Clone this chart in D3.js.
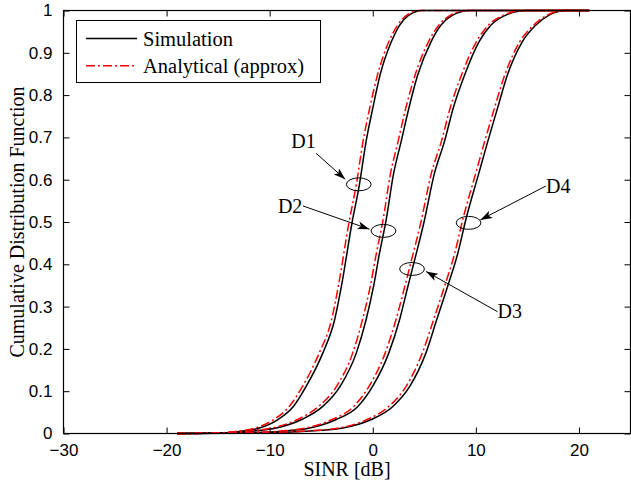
<!DOCTYPE html>
<html><head><meta charset="utf-8">
<script src="https://cdn.jsdelivr.net/npm/d3@7"></script>
<style>html,body{margin:0;padding:0;background:#fff}svg{display:block}</style>
</head><body><svg id="c" width="631" height="484"></svg>
<script>
// ---- data ----
const xTicks = [-30, -20, -10, 0, 10, 20];
const xTickLabels = ["\u221230", "\u221220", "\u221210", "0", "10", "20"];
const yTicks = [0, 0.1, 0.2, 0.3, 0.4, 0.5, 0.6, 0.7, 0.8, 0.9, 1];
const yTickLabels = ["0", "0.1", "0.2", "0.3", "0.4", "0.5", "0.6", "0.7", "0.8", "0.9", "1"];
const seriesNames = ["Simulation", "Analytical (approx)"];
const curveNames = ["D1", "D2", "D3", "D4"];

const simD1 = [[-19,0],[-15,0.001],[-13,0.005],[-11,0.013],[-9.2,0.033],[-7.7,0.064],[-6.45,0.112],[-4.85,0.19],[-3.7,0.269],[-3.05,0.347],[-2.0,0.5],[-1.3,0.588],[-0.65,0.69],[0,0.769],[0.7,0.847],[1.8,0.926],[2.6,0.965],[3.5,0.989],[4.8,1],[21,1]];
const simD2 = [[-19,0],[-14,0.002],[-11.5,0.006],[-9.35,0.013],[-6.9,0.033],[-4.85,0.064],[-3.15,0.112],[-1.6,0.19],[-0.65,0.269],[0.07,0.347],[0.65,0.426],[1.3,0.505],[2.0,0.612],[2.75,0.69],[3.5,0.769],[4.35,0.847],[5.65,0.926],[6.6,0.965],[7.75,0.989],[9.4,1],[21,1]];
const simD3 = [[-19,0],[-12,0.002],[-8.5,0.006],[-6.1,0.013],[-3.55,0.033],[-1.45,0.064],[0,0.112],[1.55,0.19],[2.6,0.269],[3.4,0.347],[3.9,0.395],[5.0,0.503],[5.95,0.612],[6.95,0.69],[7.8,0.769],[8.9,0.847],[10.3,0.926],[11.45,0.965],[12.9,0.989],[14.9,1],[21,1]];
const simD4 = [[-19,0],[-10,0.002],[-6,0.006],[-2.9,0.013],[-0.15,0.033],[1.95,0.064],[3.6,0.112],[5.15,0.19],[6.2,0.269],[7.25,0.347],[8.25,0.426],[9.0,0.503],[10.25,0.612],[11.15,0.69],[12.1,0.769],[13.05,0.847],[14.5,0.926],[15.8,0.965],[17.1,0.989],[18.7,1],[21,1]];

const anaD1 = [[-19,0],[-15.5,0.001],[-13.3,0.005],[-11.4,0.013],[-9.6,0.033],[-8.1,0.064],[-6.8,0.112],[-5.2,0.19],[-4.0,0.269],[-3.35,0.347],[-2.3,0.5],[-1.6,0.588],[-0.95,0.69],[-0.3,0.769],[0.45,0.847],[1.55,0.926],[2.4,0.965],[3.3,0.989],[4.6,1],[21,1]];
const anaD2 = [[-19,0],[-14.4,0.002],[-11.9,0.006],[-9.75,0.013],[-7.3,0.033],[-5.25,0.064],[-3.5,0.112],[-1.95,0.19],[-1.0,0.269],[-0.25,0.347],[0.35,0.426],[1.0,0.505],[1.7,0.612],[2.45,0.69],[3.2,0.769],[4.1,0.847],[5.4,0.926],[6.4,0.965],[7.55,0.989],[9.2,1],[21,1]];
const anaD3 = [[-19,0],[-12.4,0.002],[-8.9,0.006],[-6.5,0.013],[-3.95,0.033],[-1.85,0.064],[-0.35,0.112],[1.2,0.19],[2.25,0.269],[3.1,0.347],[3.6,0.395],[4.7,0.503],[5.65,0.612],[6.65,0.69],[7.5,0.769],[8.6,0.847],[10.05,0.926],[11.2,0.965],[12.7,0.989],[14.7,1],[21,1]];
const anaD4 = [[-19,0],[-10.4,0.002],[-6.4,0.006],[-3.3,0.013],[-0.55,0.033],[1.55,0.064],[3.25,0.112],[4.8,0.19],[5.9,0.269],[6.95,0.347],[7.95,0.426],[8.7,0.503],[9.95,0.612],[10.85,0.69],[11.8,0.769],[12.8,0.847],[14.25,0.926],[15.6,0.965],[16.9,0.989],[18.5,1],[21,1]];

// annotation anchors in data units: ellipse centre, label position, arrow start, arrow tip
const ellipseCenters = [[-1.36,0.589],[1.04,0.479],[3.81,0.389],[9.29,0.498]];
const labelPos = [[-7.9,0.675],[-9.2,0.522],[12.1,0.273],[16.8,0.568]];
const arrowFrom = [[-5.48,0.662],[-6.78,0.538],[12.1,0.288],[16.79,0.585]];
const arrowTo = [[-2.67,0.601],[-0.32,0.483],[5.17,0.383],[10.43,0.505]];

// ---- layout ----
const svg = d3.select("#c");
const L = 63.5, R = 630.5, T = 10.5, B = 433.5;
const x = d3.scaleLinear().domain([-30, 25]).range([L, R]);
const y = d3.scaleLinear().domain([0, 1]).range([B, T]);
const serif = "'Liberation Serif','Times New Roman',serif";
const sans = "'Liberation Sans',Arial,Helvetica,sans-serif";

// curves
const line = d3.line().x(d => x(d[0])).y(d => y(d[1])).curve(d3.curveMonotoneX);
const g = svg.append("g");
[simD1, simD2, simD3, simD4].forEach(s => {
  g.append("path").attr("d", line(s)).attr("fill", "none").attr("stroke", "#000").attr("stroke-width", 1.5);
});
[anaD1, anaD2, anaD3, anaD4].forEach(s => {
  g.append("path").attr("d", line(s)).attr("fill", "none").attr("stroke", "#ff0000").attr("stroke-width", 1.5)
    .attr("stroke-dasharray", "9,3,2,3");
});

// axes (box with inward ticks on all four sides)
function styleAxis(sel) {
  sel.select(".domain").remove();
  sel.selectAll(".tick line").attr("stroke", "#000").attr("stroke-width", 1);
  sel.selectAll("text").attr("fill", "#000").style("font-family", sans).style("font-size", "17px");
}
const xb = svg.append("g").attr("transform", `translate(0,${B})`)
  .call(d3.axisBottom(x).tickValues(xTicks).tickFormat((d, i) => xTickLabels[i]).tickSize(-6).tickPadding(10));
styleAxis(xb);
const xt = svg.append("g").attr("transform", `translate(0,${T})`)
  .call(d3.axisTop(x).tickValues(xTicks).tickFormat("").tickSize(-6));
styleAxis(xt);
const yl = svg.append("g").attr("transform", `translate(${L},0)`)
  .call(d3.axisLeft(y).tickValues(yTicks).tickFormat((d, i) => yTickLabels[i]).tickSize(-6).tickPadding(11));
styleAxis(yl);
const yr = svg.append("g").attr("transform", `translate(${R},0)`)
  .call(d3.axisRight(y).tickValues(yTicks).tickFormat("").tickSize(-6));
styleAxis(yr);
svg.append("rect").attr("x", L).attr("y", T).attr("width", R - L).attr("height", B - T)
  .attr("fill", "none").attr("stroke", "#000").attr("stroke-width", 1.2);

// axis titles
svg.append("text").attr("x", (L + R) / 2).attr("y", 476).attr("text-anchor", "middle")
  .style("font-family", serif).style("font-size", "20px").text("SINR [dB]");
svg.append("text").attr("transform", `translate(24,${(T + B) / 2}) rotate(-90)`).attr("text-anchor", "middle")
  .style("font-family", serif).style("font-size", "20px").text("Cumulative Distribution Function");

// annotations
const defs = svg.append("defs");
defs.append("marker").attr("id", "ah").attr("viewBox", "0 0 12 8").attr("refX", 12).attr("refY", 4)
  .attr("markerWidth", 12).attr("markerHeight", 8).attr("markerUnits", "userSpaceOnUse").attr("orient", "auto")
  .append("path").attr("d", "M0,0 L12,4 L0,8 L3,4 Z").attr("fill", "#000");
const rx = x(1.2) - x(0), ry = y(0) - y(0.0153);
curveNames.forEach((name, i) => {
  svg.append("ellipse").attr("cx", x(ellipseCenters[i][0])).attr("cy", y(ellipseCenters[i][1]))
    .attr("rx", rx).attr("ry", ry).attr("fill", "none").attr("stroke", "#000").attr("stroke-width", 1);
  svg.append("line").attr("x1", x(arrowFrom[i][0])).attr("y1", y(arrowFrom[i][1]))
    .attr("x2", x(arrowTo[i][0])).attr("y2", y(arrowTo[i][1]))
    .attr("stroke", "#000").attr("stroke-width", 1).attr("marker-end", "url(#ah)");
  svg.append("text").attr("x", x(labelPos[i][0])).attr("y", y(labelPos[i][1]))
    .style("font-family", serif).style("font-size", "20px").text(name);
});

// legend
const lg = svg.append("g");
lg.append("rect").attr("x", 76.5).attr("y", 20.5).attr("width", 244).attr("height", 62)
  .attr("fill", "#fff").attr("stroke", "#000").attr("stroke-width", 1);
const legStyles = [{c: "#000", d: null}, {c: "#ff0000", d: "9,3,2,3"}];
seriesNames.forEach((n, i) => {
  const yy = 38.5 + i * 27.3;
  const ln = lg.append("line").attr("x1", 86).attr("x2", 137).attr("y1", yy).attr("y2", yy)
    .attr("stroke", legStyles[i].c).attr("stroke-width", 1.5);
  if (legStyles[i].d) ln.attr("stroke-dasharray", legStyles[i].d);
  lg.append("text").attr("x", 143).attr("y", yy + 7).style("font-family", serif).style("font-size", "20.5px").text(n);
});
</script></body></html>
